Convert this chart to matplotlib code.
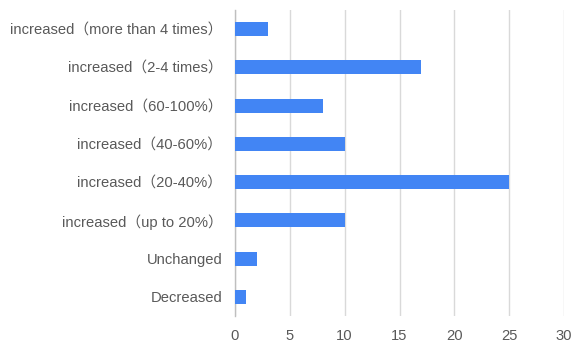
import matplotlib
matplotlib.use("Agg")
import matplotlib.pyplot as plt

categories = ["increased（more than 4 times）", "increased（2-4 times）", "increased（60-100%）",
              "increased（40-60%）", "increased（20-40%）", "increased（up to 20%）",
              "Unchanged", "Decreased"]
values = [3, 17, 8, 10, 25, 10, 2, 1]
xticks = [0, 5, 10, 15, 20, 25, 30]

plt.rcParams['font.family'] = ['Liberation Sans', 'Noto Sans CJK SC', 'DejaVu Sans']

fig = plt.figure(figsize=(5.71, 3.45), dpi=100)
ax = fig.add_axes([235/571, 1-316/345, (564-235)/571, 306/345])

pos = list(range(len(categories)))[::-1]
ax.barh(pos, values, height=0.37, color="#4285f4", zorder=3)
ax.set_ylim(-0.5, len(categories)-0.5)
ax.set_xlim(0, 30)
ax.set_xticks(xticks)
ax.set_xticklabels([str(t) for t in xticks])
ax.set_yticks(pos)
ax.set_yticklabels(categories)

ax.grid(axis='x', color="#d9d9d9", linewidth=1, zorder=0)
for s in ["top", "right", "bottom"]:
    ax.spines[s].set_visible(False)
ax.spines["left"].set_color("#bfbfbf")
ax.spines["left"].set_linewidth(1)
ax.tick_params(axis='both', length=0, labelsize=10.6, colors="#595959")
ax.tick_params(axis='y', pad=9)
ax.tick_params(axis='x', pad=9)

fig.savefig("out.png", dpi=100)
